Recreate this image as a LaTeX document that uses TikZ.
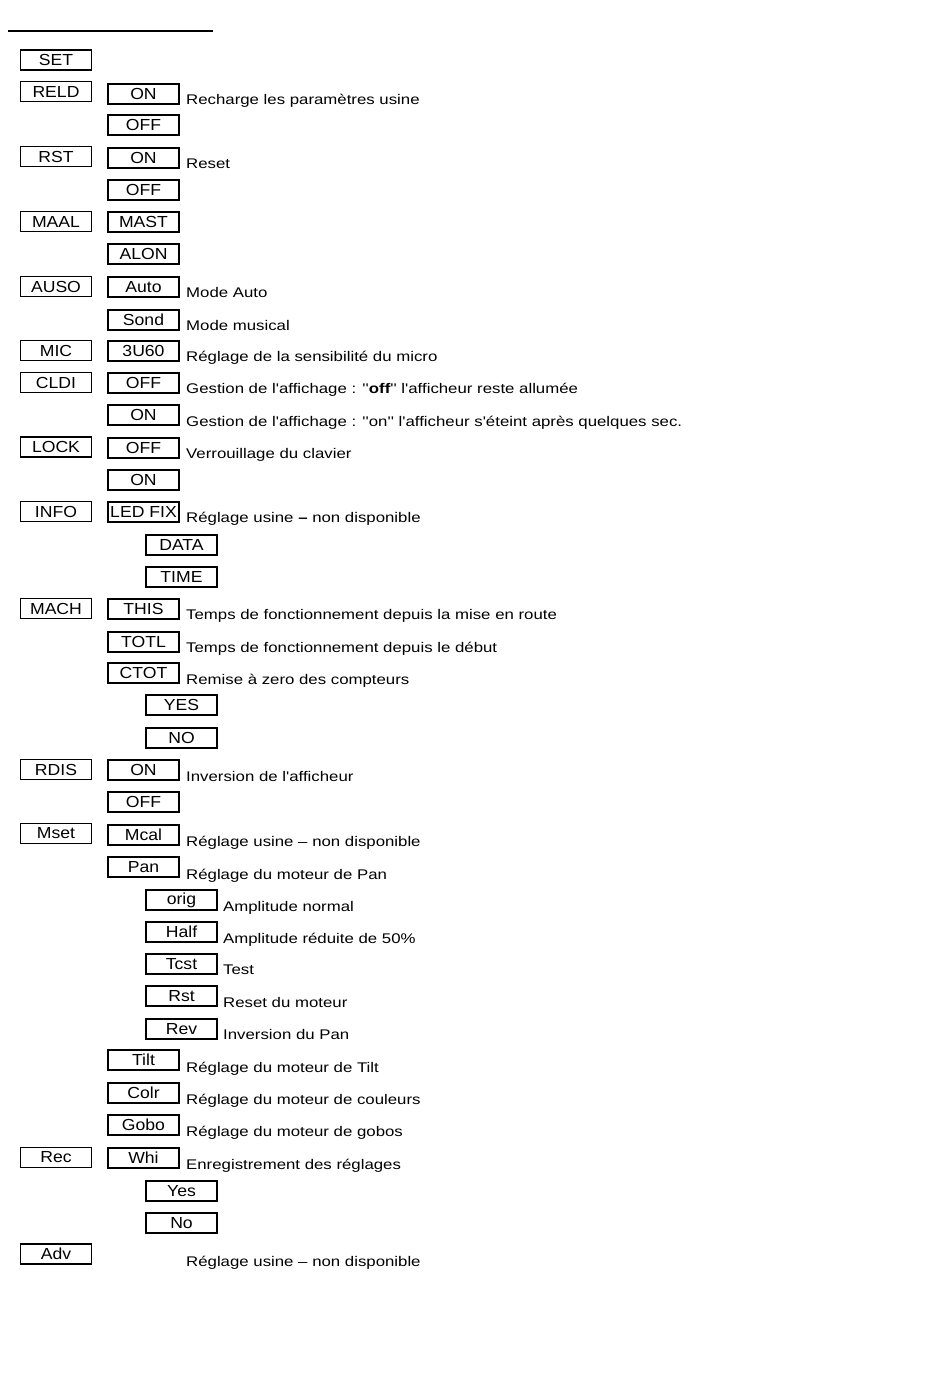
\documentclass[tikz,border=0pt]{standalone}
\usepackage{fontspec}
\setmainfont{Liberation Sans}
\newfontfamily\descfont[FakeStretch=1.2]{Liberation Sans}
\newfontfamily\boxfont[FakeStretch=1.1]{Liberation Sans}
\begin{document}
\begin{tikzpicture}[x=1pt,y=-1pt,
  box/.style={draw, line width=1.4pt, minimum width=71pt, minimum height=20pt, inner sep=0pt,
    font=\boxfont\fontsize{16}{16}\selectfont},
  desc/.style={anchor=base west, inner sep=0pt, font=\descfont\fontsize{14}{16}\selectfont}]
\useasboundingbox (0,0) rectangle (950,1379);
\fill[white] (0,0) rectangle (950,1379);
\draw[line width=2pt] (8,31) -- (213,31);
% column 1
\node[box] (set) at (56,60) {SET};
\node[box] (reld) at (56,91.5) {RELD};
\node[box] (rst) at (56,156.5) {RST};
\node[box] (maal) at (56,221.5) {MAAL};
\node[box] (auso) at (56,286.5) {AUSO};
\node[box] (mic) at (56,350.5) {MIC};
\node[box] (cldi) at (56,382.5) {CLDI};
\node[box] (lock) at (56,447) {LOCK};
\node[box] (info) at (56,511.5) {INFO};
\node[box] (mach) at (56,608.5) {MACH};
\node[box] (rdis) at (56,769.5) {RDIS};
\node[box] (mset) at (56,833.5) {Mset};
\node[box] (rec) at (56,1157.5) {Rec};
\node[box] (adv) at (56,1254) {Adv};
% column 2
\node[box] (reldon) at (143.5,94) {ON};
\node[desc] (reldond) at (186,104) {Recharge les paramètres usine};
\node[box] (reldoff) at (143.5,125) {OFF};
\node[box] (rston) at (143.5,158) {ON};
\node[desc] (rstond) at (186,168) {Reset};
\node[box] (rstoff) at (143.5,190) {OFF};
\node[box] (mast) at (143.5,222) {MAST};
\node[box] (alon) at (143.5,254) {ALON};
\node[box] (auto) at (143.5,287) {Auto};
\node[desc] (autod) at (186,297) {Mode Auto};
\node[box] (sond) at (143.5,320) {Sond};
\node[desc] (sondd) at (186,330) {Mode musical};
\node[box] (su) at (143.5,351) {3U60};
\node[desc] (sud) at (186,361) {Réglage de la sensibilité du micro};
\node[box] (cldioff) at (143.5,383) {OFF};
\node[desc] (cldioffd) at (186,393) {Gestion de l'affichage : ''{\bfseries off}'' l'afficheur reste allumée};
\node[box] (cldion) at (143.5,415) {ON};
\node[desc] (cldiond) at (186,426) {Gestion de l'affichage : ''on'' l'afficheur s'éteint après quelques sec.};
\node[box] (lockoff) at (143.5,448) {OFF};
\node[desc] (lockoffd) at (186,458) {Verrouillage du clavier};
\node[box] (lockon) at (143.5,480) {ON};
\node[box] (ledfix) at (143.5,512) {LED FIX};
\node[desc] (ledfixd) at (186,522) {Réglage usine {\bfseries –} non disponible};
\node[box] (this) at (143.5,609) {THIS};
\node[desc] (thisd) at (186,619) {Temps de fonctionnement depuis la mise en route};
\node[box] (totl) at (143.5,642) {TOTL};
\node[desc] (totld) at (186,652) {Temps de fonctionnement depuis le début};
\node[box] (ctot) at (143.5,673) {CTOT};
\node[desc] (ctotd) at (186,684) {Remise à zero des compteurs};
\node[box] (rdison) at (143.5,770) {ON};
\node[desc] (rdisond) at (186,781) {Inversion de l'afficheur};
\node[box] (rdisoff) at (143.5,802) {OFF};
\node[box] (mcal) at (143.5,835) {Mcal};
\node[desc] (mcald) at (186,846) {Réglage usine – non disponible};
\node[box] (pan) at (143.5,867) {Pan};
\node[desc] (pand) at (186,879) {Réglage du moteur de Pan};
\node[box] (tilt) at (143.5,1060) {Tilt};
\node[desc] (tiltd) at (186,1072) {Réglage du moteur de Tilt};
\node[box] (colr) at (143.5,1093) {Colr};
\node[desc] (colrd) at (186,1104) {Réglage du moteur de couleurs};
\node[box] (gobo) at (143.5,1125) {Gobo};
\node[desc] (gobod) at (186,1136) {Réglage du moteur de gobos};
\node[box] (whi) at (143.5,1158) {Whi};
\node[desc] (whid) at (186,1169) {Enregistrement des réglages};
\node[desc] (advd) at (186,1266) {Réglage usine – non disponible};
% column 3
\node[box] (data) at (181.5,545) {DATA};
\node[box] (time) at (181.5,577) {TIME};
\node[box] (yes) at (181.5,705) {YES};
\node[box] (no) at (181.5,738) {NO};
\node[box] (orig) at (181.5,900) {orig};
\node[desc] (origd) at (223,911) {Amplitude normal};
\node[box] (half) at (181.5,932) {Half};
\node[desc] (halfd) at (223,943) {Amplitude réduite de 50\%};
\node[box] (tcst) at (181.5,964) {Tcst};
\node[desc] (tcstd) at (223,974) {Test};
\node[box] (rstm) at (181.5,996) {Rst};
\node[desc] (rstmd) at (223,1007) {Reset du moteur};
\node[box] (rev) at (181.5,1029) {Rev};
\node[desc] (revd) at (223,1039) {Inversion du Pan};
\node[box] (yes2) at (181.5,1191) {Yes};
\node[box] (no2) at (181.5,1223) {No};
\end{tikzpicture}
\end{document}
